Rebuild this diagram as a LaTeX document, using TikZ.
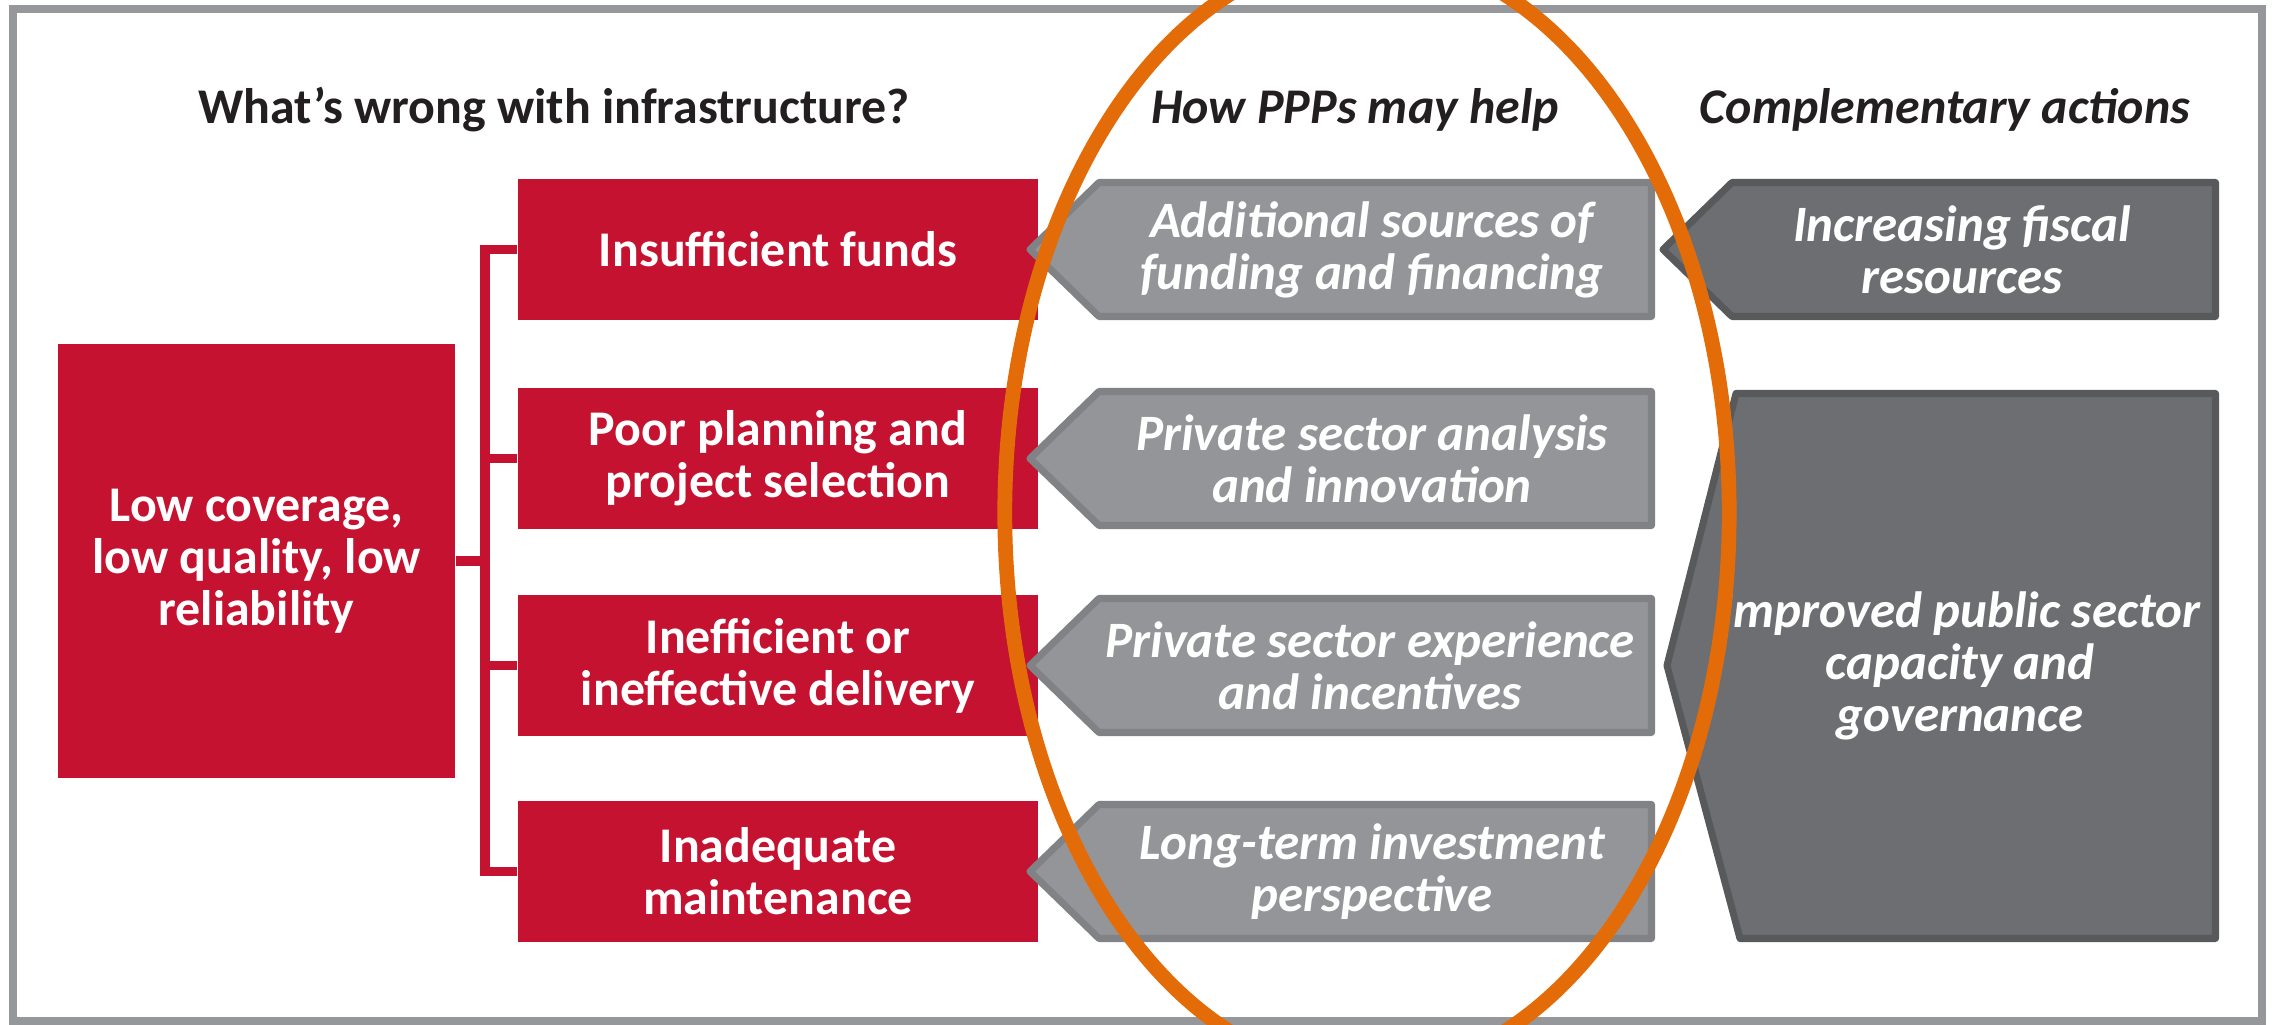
\documentclass[tikz,border=0pt]{standalone}
\usepackage{fontspec}
\setmainfont{Carlito}
\definecolor{ired}{RGB}{196,18,48}
\definecolor{pppfill}{RGB}{147,149,152}
\definecolor{pppline}{RGB}{128,130,133}
\definecolor{compfill}{RGB}{109,110,113}
\definecolor{compline}{RGB}{88,89,91}
\definecolor{framegray}{RGB}{150,151,155}
\definecolor{iorange}{RGB}{227,108,9}
\definecolor{headtext}{RGB}{35,31,32}
\begin{document}
\begin{tikzpicture}[x=0.01cm,y=-0.01cm,
  redbox/.style={fill=ired, text=white, minimum width=5.2cm, minimum height=1.41cm,
    inner sep=0pt, align=center, font=\bfseries\fontsize{14.2}{14.8}\selectfont},
  conn/.style={draw=ired, line width=2.8pt},
  pppshape/.style={fill=pppfill, draw=pppline, line width=2pt, line join=round},
  compshape/.style={fill=compfill, draw=compline, line width=2pt, line join=round},
  arrtext/.style={text=white, align=center, inner sep=0pt,
    font=\bfseries\itshape\fontsize{14.5}{14.8}\selectfont},
  headline/.style={text=headtext, anchor=base, inner sep=0pt,
    font=\bfseries\fontsize{14.2}{14.8}\selectfont},
  headital/.style={headline, font=\bfseries\itshape\fontsize{14.2}{14.8}\selectfont},
]
\useasboundingbox (0,0) rectangle (2277,1025);

% headers
\node[headline] (h1) at (554,124) {What’s wrong with infrastructure?};
\node[headital] (h2) at (1355,124) {How PPPs may help};
\node[headital] (h3) at (1945,124) {Complementary actions};

% red boxes
\node[redbox] (b1) at (778,249.5) {Insufficient funds};
\node[redbox] (b2) at (778,458.5) {Poor planning and\\project selection};
\node[redbox] (b3) at (778,665.5) {Inefficient or\\ineffective delivery};
\node[redbox] (b4) at (778,871.5) {Inadequate\\maintenance};
\node[redbox, minimum width=3.97cm, minimum height=4.34cm] (low) at (256.5,561)
  {Low coverage,\\low quality, low\\reliability};

% connectors
\draw[conn] (b1.west) -- ++(-32,0) |- (b4.west);
\draw[conn] (b2.west) -- ++(-32,0);
\draw[conn] (b3.west) -- ++(-32,0);
\draw[conn] (low.east) -- ++(31,0);

% PPP arrows
\path[pppshape] (1030,249.5) -- (1099,182.5) -- (1651.5,182.5) -- (1651.5,316.5) -- (1099,316.5) -- cycle;
\path[pppshape] (1030,458.5) -- (1099,391.5) -- (1651.5,391.5) -- (1651.5,525.5) -- (1099,525.5) -- cycle;
\path[pppshape] (1030,665.5) -- (1099,598.5) -- (1651.5,598.5) -- (1651.5,732.5) -- (1099,732.5) -- cycle;
\path[pppshape] (1030,871.5) -- (1099,804.5) -- (1651.5,804.5) -- (1651.5,938.5) -- (1099,938.5) -- cycle;

% complementary arrows
\path[compshape] (1663,249.5) -- (1732,182.5) -- (2215.5,182.5) -- (2215.5,316.5) -- (1732,316.5) -- cycle;
\path[compshape] (1667,665.5) -- (1736,393.5) -- (2215.5,393.5) -- (2215.5,938.5) -- (1740,938.5) -- cycle;

% arrow texts
\node[arrtext] (p1) at (1372,249.5) {Additional sources of\\funding and financing};
\node[arrtext] (p2) at (1372,458.5) {Private sector analysis\\and innovation};
\node[arrtext] (p3) at (1370,665.5) {Private sector experience\\and incentives};
\node[arrtext] (p4) at (1372,871.5) {Long-term investment\\perspective};
\node[arrtext] (c1) at (1962,249.5) {Increasing fiscal\\resources};
\node[arrtext] (c2) at (1960,665.5) {Improved public sector\\capacity and\\governance};

% frame
\draw[framegray, line width=2pt] (13,9) rectangle (2262,1021);

% highlight ellipse
\draw[iorange, line width=4.2pt] (1367,513) ellipse [x radius=3.62cm, y radius=5.6cm];
\end{tikzpicture}
\end{document}
